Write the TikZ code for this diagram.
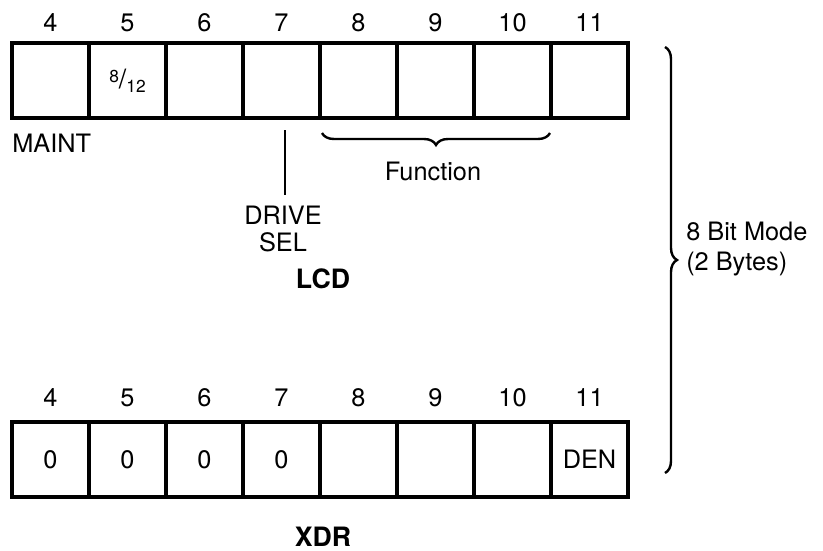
\documentclass[tikz,border=0pt]{standalone}
\usepackage{fontspec}
\setmainfont{TeX Gyre Heros}
\usetikzlibrary{decorations.pathreplacing}

\tikzset{
  bitbox/.style={draw, line width=2.8pt, minimum width=57.75pt, minimum height=56.25pt, inner sep=0pt, font=\fontsize{19}{22}\selectfont},
  bitnum/.style={font=\fontsize{19}{22}\selectfont, inner sep=0pt},
  lbl/.style={font=\fontsize{19}{22}\selectfont, inner sep=0pt},
  regname/.style={font=\fontsize{20}{23}\selectfont\bfseries, inner sep=0pt},
  bracebrace/.style={decorate, line width=1.8pt},
}

\begin{document}
\begin{tikzpicture}[x=0.75pt,y=0.75pt,yscale=-1,xscale=1]
\useasboundingbox (0,0) rectangle (823,550);

% LCD byte
\node[bitbox] (l4) at (50.5,80.5) {};
\node[bitbox] (l5) at (127.5,80.5) {\fontsize{13}{15}\selectfont\raisebox{4pt}{8}\fontsize{20}{22}\selectfont/\fontsize{13}{15}\selectfont\raisebox{-3pt}{12}};
\node[bitbox] (l6) at (204.5,80.5) {};
\node[bitbox] (l7) at (281.5,80.5) {};
\node[bitbox] (l8) at (358.5,80.5) {};
\node[bitbox] (l9) at (435.5,80.5) {};
\node[bitbox] (l10) at (512.5,80.5) {};
\node[bitbox] (l11) at (589.5,80.5) {};

\foreach \b in {4,...,11}
  \node[bitnum] (ln\b) at ([yshift=-43.5pt]l\b.center) {\b};

% XDR byte
\node[bitbox] (x4) at (50.5,459.5) {0};
\node[bitbox] (x5) at (127.5,459.5) {0};
\node[bitbox] (x6) at (204.5,459.5) {0};
\node[bitbox] (x7) at (281.5,459.5) {0};
\node[bitbox] (x8) at (358.5,459.5) {};
\node[bitbox] (x9) at (435.5,459.5) {};
\node[bitbox] (x10) at (512.5,459.5) {};
\node[bitbox] (x11) at (589.5,459.5) {DEN};

\foreach \b in {4,...,11}
  \node[bitnum] (xn\b) at ([yshift=-46.5pt]x\b.center) {\b};

% labels
\node[lbl, anchor=west] (maint) at (12,143) {MAINT};
\node[lbl, align=center] (drive) at (283,229) {DRIVE\\[-2pt]SEL};
\coordinate (drivetop) at (285,130);
\coordinate (drivebot) at (285,195);
\draw[line width=1.1pt] (drivetop) -- (drivebot);
\node[regname] (lcd) at (323,279) {LCD};
\node[regname] (xdr) at (323,537) {XDR};

\coordinate (fnL) at (322,133);
\coordinate (fnR) at (550,133);
\draw[bracebrace, decoration={brace, mirror, amplitude=9pt}] (fnL) -- (fnR);
\node[lbl] (func) at (433,171) {Function};

\coordinate (modeT) at (665,47);
\coordinate (modeB) at (665,473);
\draw[bracebrace, decoration={brace, amplitude=9pt}] (modeT) -- (modeB);
\node[lbl, anchor=west, align=left] (mode) at (686,249) {8 Bit Mode\\(2 Bytes)};

\end{tikzpicture}
\end{document}
